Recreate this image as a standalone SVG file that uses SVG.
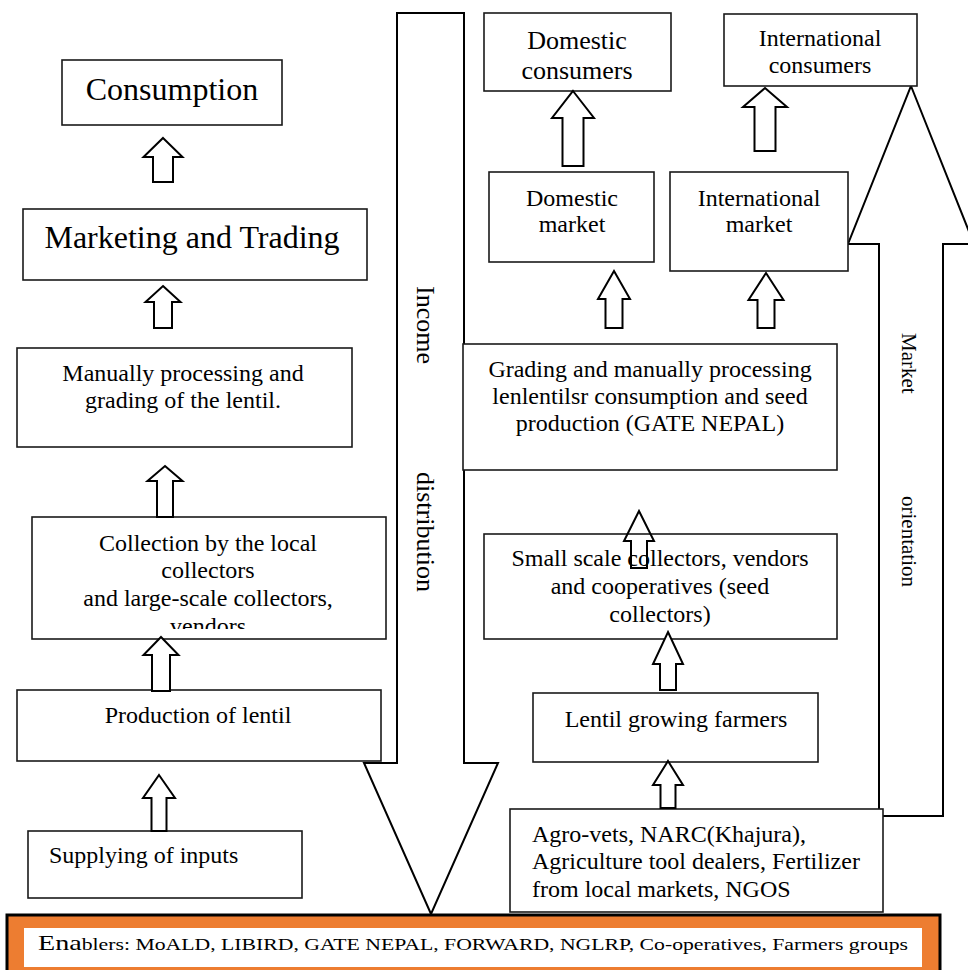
<svg xmlns="http://www.w3.org/2000/svg" width="968" height="970" viewBox="0 0 968 970">
<style>
  .box { fill: #fff; stroke: #1a1a1a; stroke-width: 1.6; }
  .t { font-family: "Liberation Serif", "Times New Roman", serif; fill: #000; }
  .c { text-anchor: middle; }
  .arr { fill: #fff; stroke: #000; stroke-width: 2; stroke-linejoin: miter; }
  .big { fill: #fff; stroke: #000; stroke-width: 2; stroke-linejoin: miter; }
</style>
<defs>
  <clipPath id="clipCollect"><rect x="32" y="517" width="354" height="112"/></clipPath>
</defs>
<rect width="968" height="970" fill="#fff"/>

<!-- big arrows -->
<g id="income-distribution">
  <polygon class="big" points="397,13 464,13 464,763 498,763 431,914 364,763 397,763"/>
  <text class="t" font-size="26" transform="translate(417,286) rotate(90)">Income</text>
  <text class="t" font-size="26" transform="translate(417,472) rotate(90)">distribution</text>
</g>
<g id="market-orientation">
  <polygon class="big" points="911,86 974,244 943,244 943,816 879,816 879,244 848,244"/>
  <text class="t" font-size="21" transform="translate(902,333) rotate(90)">Market</text>
  <text class="t" font-size="21" transform="translate(902,496) rotate(90)">orientation</text>
</g>

<!-- left column -->
<g id="consumption">
  <rect class="box" x="62" y="60" width="220" height="65"/>
  <text class="t c" font-size="32" x="172" y="100">Consumption</text>
</g>
<g id="marketing-trading">
  <rect class="box" x="23" y="209" width="344" height="71"/>
  <text class="t c" font-size="32" x="192" y="248">Marketing and Trading</text>
</g>
<g id="manual-processing">
  <rect class="box" x="17" y="348" width="335" height="99"/>
  <text class="t c" font-size="24" x="183" y="381">Manually processing and</text>
  <text class="t c" font-size="24" x="183" y="408">grading of the lentil.</text>
</g>
<g id="collection">
  <rect class="box" x="32" y="517" width="354" height="122"/>
  <g clip-path="url(#clipCollect)">
    <text class="t c" font-size="24" x="208" y="551">Collection by the local</text>
    <text class="t c" font-size="24" x="208" y="578">collectors</text>
    <text class="t c" font-size="24" x="208" y="606">and large-scale collectors,</text>
    <text class="t c" font-size="24" x="208" y="634">vendors</text>
  </g>
</g>
<g id="production">
  <rect class="box" x="17" y="690" width="364" height="71"/>
  <text class="t c" font-size="24" x="198" y="723">Production of lentil</text>
</g>
<g id="supplying-inputs">
  <rect class="box" x="28" y="831" width="274" height="67"/>
  <text class="t" font-size="24" x="49" y="863">Supplying of inputs</text>
</g>

<!-- right column -->
<g id="domestic-consumers">
  <rect class="box" x="484" y="13" width="187" height="78"/>
  <text class="t c" font-size="26" x="577" y="49">Domestic</text>
  <text class="t c" font-size="26" x="577" y="79">consumers</text>
</g>
<g id="international-consumers">
  <rect class="box" x="724" y="14" width="193" height="72"/>
  <text class="t c" font-size="24" x="820" y="46">International</text>
  <text class="t c" font-size="24" x="820" y="73">consumers</text>
</g>
<g id="domestic-market">
  <rect class="box" x="489" y="172" width="165" height="90"/>
  <text class="t c" font-size="24" x="572" y="206">Domestic</text>
  <text class="t c" font-size="24" x="572" y="232">market</text>
</g>
<g id="international-market">
  <rect class="box" x="670" y="172" width="178" height="99"/>
  <text class="t c" font-size="24" x="759" y="206">International</text>
  <text class="t c" font-size="24" x="759" y="232">market</text>
</g>
<g id="grading">
  <rect class="box" x="463" y="344" width="374" height="126"/>
  <text class="t c" font-size="24" x="650" y="377">Grading and manually processing</text>
  <text class="t c" font-size="24" x="650" y="404">lenlentilsr consumption and seed</text>
  <text class="t c" font-size="24" x="650" y="431">production (GATE NEPAL)</text>
</g>
<g id="small-scale-collectors">
  <rect class="box" x="484" y="534" width="353" height="105"/>
  <text class="t c" font-size="24" x="660" y="566">Small scale collectors, vendors</text>
  <text class="t c" font-size="24" x="660" y="594">and cooperatives (seed</text>
  <text class="t c" font-size="24" x="660" y="622">collectors)</text>
</g>
<g id="lentil-farmers">
  <rect class="box" x="533" y="693" width="285" height="69"/>
  <text class="t c" font-size="24" x="676" y="727">Lentil growing farmers</text>
</g>
<g id="agro-vets">
  <rect class="box" x="510" y="809" width="373" height="103"/>
  <text class="t" font-size="24" x="532" y="842">Agro-vets, NARC(Khajura),</text>
  <text class="t" font-size="24" x="532" y="869">Agriculture tool dealers, Fertilizer</text>
  <text class="t" font-size="24" x="532" y="897">from local markets, NGOS</text>
</g>

<!-- enablers -->
<g id="enablers">
  <rect x="7" y="915" width="933" height="60" fill="#ED7D31" stroke="#000" stroke-width="3"/>
  <rect x="24" y="928" width="898" height="39" fill="#fff"/>
  <text class="t" transform="translate(38,950) scale(1.278,1)" x="0" y="0"><tspan font-size="22">Ena</tspan><tspan font-size="17">blers: MoALD, LIBIRD, GATE NEPAL, FORWARD, NGLRP, Co-operatives, Farmers groups</tspan></text>
</g>

<!-- connectors -->
<g id="connectors">
  <polygon class="arr" points="163,138 182.5,157 173,157 173,182 153,182 153,157 143.5,157"/>
  <polygon class="arr" points="163,286 180.5,302 172,302 172,328 154,328 154,302 145.5,302"/>
  <polygon class="arr" points="165,466 182.5,481 173,481 173,517 157,517 157,481 147.5,481"/>
  <polygon class="arr" points="161,637 178.5,655 170,655 170,691 152,691 152,655 143.5,655"/>
  <polygon class="arr" points="159,775 175,798 166.5,798 166.5,831 151.5,831 151.5,798 143,798"/>

  <polygon class="arr" points="573,91 594,118 583.5,118 583.5,166 562.5,166 562.5,118 552,118"/>
  <polygon class="arr" points="765,88 787,107 775.5,107 775.5,151 754.5,151 754.5,107 743,107"/>
  <polygon class="arr" points="614,271 630,299 622.5,299 622.5,328 605.5,328 605.5,299 598,299"/>
  <polygon class="arr" points="766,273 783.5,300 774.5,300 774.5,328 757.5,328 757.5,300 748.5,300"/>
  <polygon class="arr" style="fill:none" points="639,511 654,541 647,541 647,568 631,568 631,541 624,541"/>
  <polygon class="arr" points="668,632 683,664 676,664 676,690 660,690 660,664 653,664"/>
  <polygon class="arr" points="668,761 683,785 675.5,785 675.5,808 660.5,808 660.5,785 653,785"/>
</g>
</svg>
